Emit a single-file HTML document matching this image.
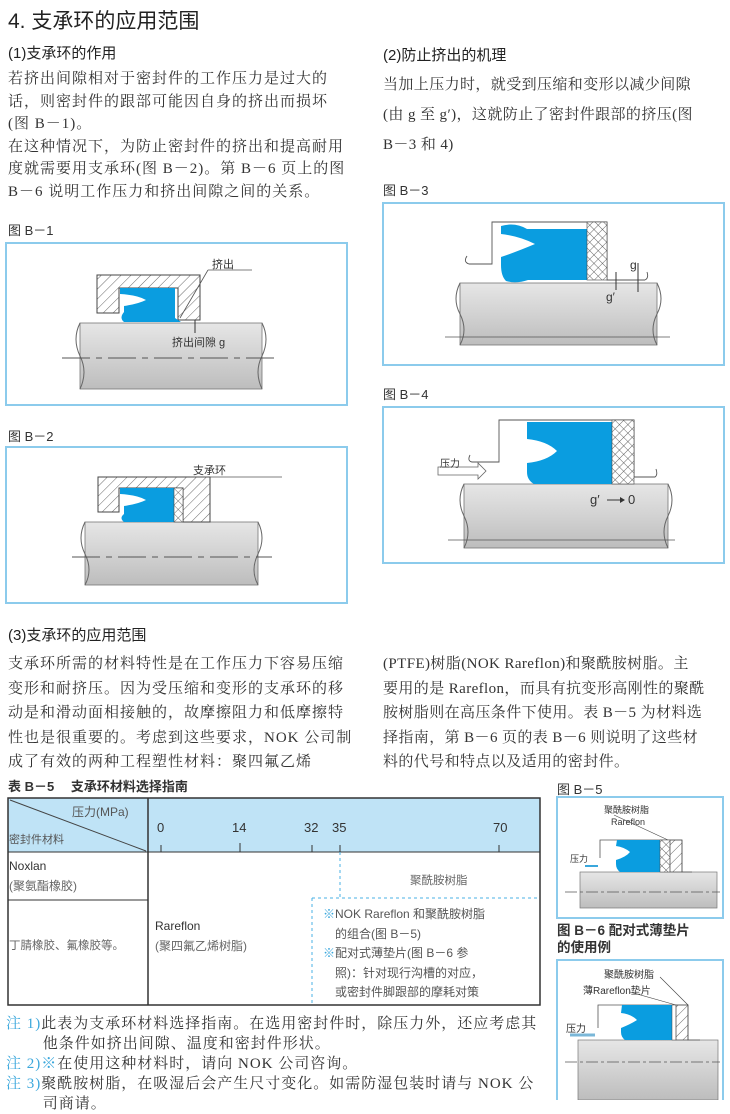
<!DOCTYPE html>
<html><head><meta charset="utf-8"><style>
body{margin:0;width:730px;height:1100px;position:relative;background:#fff;overflow:hidden;font-family:"Liberation Sans","Noto Sans CJK SC",sans-serif;color:#333}
.t{position:absolute;white-space:nowrap;font-size:14px}
.h{font-size:15px;color:#222}
.b{font-family:"Liberation Serif","Noto Serif CJK SC",serif;font-size:15px;color:#333}
.n{color:#3aa7dc}
svg{position:absolute;left:0;top:0}
</style></head><body>
<svg width="730" height="1100" viewBox="0 0 730 1100">
<defs>
<linearGradient id="sh" x1="0" y1="0" x2="0" y2="1"><stop offset="0" stop-color="#e6e6e6"/><stop offset="0.5" stop-color="#d2d2d2"/><stop offset="1" stop-color="#bdbdbd"/></linearGradient>
<pattern id="hat" width="7" height="7" patternUnits="userSpaceOnUse" patternTransform="rotate(45)"><line x1="0" y1="0" x2="0" y2="7" stroke="#444" stroke-width="0.8"/></pattern>
<pattern id="cross" width="6" height="6" patternUnits="userSpaceOnUse" patternTransform="rotate(45)"><rect width="6" height="6" fill="#fff"/><line x1="0" y1="0" x2="0" y2="6" stroke="#444" stroke-width="0.8"/><line x1="0" y1="0" x2="6" y2="0" stroke="#444" stroke-width="0.8"/></pattern>
</defs>
<g fill="none" stroke="#8ccbec" stroke-width="2">
<rect x="6" y="243" width="341" height="162"/>
<rect x="6" y="447" width="341" height="156"/>
<rect x="383" y="203" width="341" height="162"/>
<rect x="383" y="407" width="341" height="156"/>
<rect x="557" y="797" width="166" height="121"/>
<rect x="557" y="960" width="166" height="145"/>
</g>
<!-- B-1 -->
<rect x="80" y="323" width="182" height="66" fill="url(#sh)" stroke="#777" stroke-width="0.8"/>
<path d="M80 323 q-8 16 0 33 q8 16 0 33 M262 323 q8 16 0 33 q-8 16 0 33" fill="none" stroke="#666"/>
<line x1="62" y1="358" x2="277" y2="358" stroke="#555" stroke-dasharray="28 6 6 6"/>
<path d="M97 275 H200 V320 H178 V288 H119 V313 H97 Z" fill="url(#hat)" stroke="#444"/>
<path d="M120 288 H175 V318 l6 4 H124 q-5 -4 0 -10 V306 q14 -2 22 -6 q-8 -5 -26 -6 z" fill="#0a9de0"/>
<line x1="208" y1="270" x2="252" y2="270" stroke="#555" stroke-width="0.8"/>
<line x1="208" y1="270" x2="180" y2="318" stroke="#555" stroke-width="0.8"/>
<line x1="195" y1="320" x2="195" y2="333" stroke="#333"/>
<!-- B-2 -->
<rect x="85" y="522" width="173" height="63" fill="url(#sh)" stroke="#777" stroke-width="0.8"/>
<path d="M85 522 q-8 16 0 32 q8 16 0 31 M258 522 q8 16 0 32 q-8 16 0 31" fill="none" stroke="#666"/>
<line x1="72" y1="557" x2="272" y2="557" stroke="#555" stroke-dasharray="28 6 6 6"/>
<path d="M98 477 H210 V522 H183 V488 H119 V512 H98 Z" fill="url(#hat)" stroke="#444"/>
<path d="M120 488 H174 V522 H124 q-5 -4 0 -8 V506 q14 -2 22 -6 q-8 -5 -26 -6 z" fill="#0a9de0"/>
<rect x="174" y="488" width="9" height="34" fill="url(#cross)" stroke="#444" stroke-width="0.6"/>
<line x1="190" y1="477" x2="282" y2="477" stroke="#555" stroke-width="0.8"/>
<!-- B-3 -->
<rect x="460" y="283" width="197" height="62" fill="url(#sh)" stroke="#777" stroke-width="0.8"/>
<path d="M460 283 q-8 16 0 31 q8 16 0 31 M657 283 q8 16 0 31 q-8 16 0 31" fill="none" stroke="#666"/>
<line x1="445" y1="337" x2="670" y2="337" stroke="#555" stroke-width="0.8"/>
<path d="M467 256 q-4 6 2 8 H492 V222 H607 V280 H645 M645 280 q4 -2 2 -8" fill="none" stroke="#555" stroke-width="0.9"/>
<path d="M501 226 q14 -4 26 3 H587 V280 H528 q-12 4 -22 1 q-5 -5 -5 -16 V257 q15 -5 34 -13 q-16 -8 -34 -10 z" fill="#0a9de0"/>
<rect x="587" y="222" width="20" height="58" fill="url(#cross)" stroke="#444" stroke-width="0.6"/>
<line x1="616" y1="272" x2="616" y2="290" stroke="#333"/><line x1="638" y1="263" x2="638" y2="292" stroke="#333"/>
<!-- B-4 -->
<rect x="464" y="484" width="204" height="64" fill="url(#sh)" stroke="#777" stroke-width="0.8"/>
<path d="M464 484 q-8 16 0 32 q8 16 0 32 M668 484 q8 16 0 32 q-8 16 0 32" fill="none" stroke="#666"/>
<line x1="448" y1="540" x2="675" y2="540" stroke="#555" stroke-width="0.8"/>
<path d="M470 455 q-3 6 2 7 H499 V420 H634 V477 H655 q3 -2 1 -8" fill="none" stroke="#555" stroke-width="0.9"/>
<path d="M527 422 H612 V484 H534 q-7 -4 -7 -12 V463 q20 -2 30 -12 q-10 -10 -30 -12 z" fill="#0a9de0"/>
<rect x="612" y="420" width="22" height="64" fill="url(#cross)" stroke="#444" stroke-width="0.6"/>
<path d="M438 467 H478 V463 L486 471 L478 479 V475 H438 Z" fill="#fff" stroke="#666" stroke-width="0.8"/>
<line x1="607" y1="500" x2="620" y2="500" stroke="#333"/><path d="M620 497 l5 3 l-5 3z" fill="#333"/>
<!-- Table -->
<rect x="8" y="798" width="532" height="54" fill="#bfe3f6"/>
<rect x="8" y="798" width="532" height="207" fill="none" stroke="#333" stroke-width="1.5"/>
<line x1="148" y1="798" x2="148" y2="1005" stroke="#333" stroke-width="1.5"/>
<line x1="8" y1="852" x2="540" y2="852" stroke="#333"/>
<line x1="8" y1="900" x2="148" y2="900" stroke="#333"/>
<line x1="10" y1="800" x2="146" y2="851" stroke="#444"/>
<g stroke="#333"><line x1="161" y1="845" x2="161" y2="852"/><line x1="240" y1="843" x2="240" y2="852"/><line x1="312" y1="845" x2="312" y2="852"/><line x1="340" y1="845" x2="340" y2="852"/><line x1="499" y1="845" x2="499" y2="852"/></g>
<path d="M340 852 V898 M312 898 H540 M312 898 V1005" fill="none" stroke="#49b0e4" stroke-dasharray="3 3"/>
<!-- B-5 -->
<rect x="580" y="872" width="137" height="36" fill="url(#sh)" stroke="#777" stroke-width="0.7"/>
<line x1="565" y1="892" x2="720" y2="892" stroke="#555" stroke-dasharray="12 3 3 3" stroke-width="0.7"/>
<path d="M600 858 V840 H682 V872 H692" fill="none" stroke="#555" stroke-width="0.8"/>
<path d="M617 840 H660 V872 H620 q-4 -3 -4 -8 V860 q10 -3 14 -8 q-6 -5 -14 -6z" fill="#0a9de0"/>
<rect x="660" y="840" width="10" height="32" fill="url(#cross)" stroke="#444" stroke-width="0.5"/>
<rect x="670" y="840" width="12" height="32" fill="url(#hat)" stroke="#444" stroke-width="0.5"/>
<line x1="585" y1="866" x2="598" y2="866" stroke="#3aa7dc" stroke-width="2"/>
<line x1="614" y1="815" x2="668" y2="840" stroke="#444" stroke-width="0.6"/>
<!-- B-6 -->
<rect x="578" y="1040" width="140" height="60" fill="url(#sh)" stroke="#777" stroke-width="0.7"/>
<line x1="565" y1="1062" x2="720" y2="1062" stroke="#555" stroke-dasharray="12 3 3 3" stroke-width="0.7"/>
<path d="M598 1028 V1005 H688 V1040 H700" fill="none" stroke="#555" stroke-width="0.8"/>
<path d="M622 1005 H672 V1040 H625 q-4 -3 -4 -8 V1028 q10 -4 16 -8 q-6 -6 -16 -7z" fill="#0a9de0"/>
<rect x="672" y="1005" width="4" height="35" fill="#fff" stroke="#444" stroke-width="0.5"/>
<rect x="676" y="1005" width="12" height="35" fill="url(#hat)" stroke="#444" stroke-width="0.5"/>
<line x1="570" y1="1035" x2="595" y2="1035" stroke="#7ab7d8" stroke-width="3"/>
<line x1="630" y1="992" x2="676" y2="1005" stroke="#444" stroke-width="0.6"/>
<line x1="660" y1="977" x2="688" y2="1005" stroke="#444" stroke-width="0.6"/>
</svg>

<div class="t" style="left:8px;top:5px;font-size:21px;color:#222">4. 支承环的应用范围</div>
<div class="t h" style="left:8px;top:42px">(1)支承环的作用</div>
<div class="t b" style="left:8px;top:68px;line-height:22.5px;letter-spacing:1px">若挤出间隙相对于密封件的工作压力是过大的<br>话，则密封件的跟部可能因自身的挤出而损坏<br>(图 B－1)。<br>在这种情况下，为防止密封件的挤出和提高耐用<br>度就需要用支承环(图 B－2)。第 B－6 页上的图<br>B－6 说明工作压力和挤出间隙之间的关系。</div>
<div class="t" style="left:8px;top:220px;font-size:13px">图 B－1</div>
<div class="t" style="left:212px;top:256px;font-size:11px">挤出</div>
<div class="t" style="left:172px;top:334px;font-size:11px">挤出间隙 g</div>
<div class="t" style="left:8px;top:426px;font-size:13px">图 B－2</div>
<div class="t" style="left:193px;top:462px;font-size:11px">支承环</div>

<div class="t h" style="left:383px;top:44px">(2)防止挤出的机理</div>
<div class="t b" style="left:383px;top:70px;line-height:30px;letter-spacing:0.4px">当加上压力时，就受到压缩和变形以减少间隙<br>(由 g 至 g′)，这就防止了密封件跟部的挤压(图<br>B－3 和 4)</div>
<div class="t" style="left:383px;top:180px;font-size:13px">图 B－3</div>
<div class="t" style="left:630px;top:258px;font-size:12px">g</div>
<div class="t" style="left:606px;top:290px;font-size:12px">g′</div>
<div class="t" style="left:383px;top:384px;font-size:13px">图 B－4</div>
<div class="t" style="left:440px;top:455px;font-size:10px">压力</div>
<div class="t" style="left:590px;top:492px;font-size:13px">g′</div>
<div class="t" style="left:628px;top:492px;font-size:13px">0</div>

<div class="t h" style="left:8px;top:624px">(3)支承环的应用范围</div>
<div class="t b" style="left:8px;top:652px;line-height:24.5px;letter-spacing:1px">支承环所需的材料特性是在工作压力下容易压缩<br>变形和耐挤压。因为受压缩和变形的支承环的移<br>动是和滑动面相接触的，故摩擦阻力和低摩擦特<br>性也是很重要的。考虑到这些要求，NOK 公司制<br>成了有效的两种工程塑性材料：聚四氟乙烯</div>
<div class="t b" style="left:383px;top:652px;line-height:24.5px;letter-spacing:0.4px">(PTFE)树脂(NOK Rareflon)和聚酰胺树脂。主<br>要用的是 Rareflon，而具有抗变形高刚性的聚酰<br>胺树脂则在高压条件下使用。表 B－5 为材料选<br>择指南，第 B－6 页的表 B－6 则说明了这些材<br>料的代号和特点以及适用的密封件。</div>

<div class="t" style="left:8px;top:776px;font-size:13px;font-weight:bold">表 B－5　 支承环材料选择指南</div>
<div class="t" style="left:72px;top:803px;font-size:12px;color:#555">压力(MPa)</div>
<div class="t" style="left:9px;top:831px;font-size:11px;color:#555">密封件材料</div>
<div class="t" style="left:157px;top:820px;font-size:13px">0</div>
<div class="t" style="left:232px;top:820px;font-size:13px">14</div>
<div class="t" style="left:304px;top:820px;font-size:13px">32</div>
<div class="t" style="left:332px;top:820px;font-size:13px">35</div>
<div class="t" style="left:493px;top:820px;font-size:13px">70</div>
<div class="t" style="left:9px;top:856px;font-size:12px;line-height:20px">Noxlan<br><span style="color:#666">(聚氨酯橡胶)</span></div>
<div class="t" style="left:9px;top:937px;font-size:11.5px;color:#666">丁腈橡胶、氟橡胶等。</div>
<div class="t" style="left:155px;top:916px;font-size:12px;line-height:20px">Rareflon<br><span style="color:#666">(聚四氟乙烯树脂)</span></div>
<div class="t" style="left:410px;top:872px;font-size:11.5px;color:#666">聚酰胺树脂</div>
<div class="t" style="left:323px;top:905px;font-size:12px;line-height:19.5px;color:#555"><span class="n">※</span>NOK Rareflon 和聚酰胺树脂<br>　的组合(图 B－5)<br><span class="n">※</span>配对式薄垫片(图 B－6 参<br>　照)：针对现行沟槽的对应，<br>　或密封件脚跟部的摩耗对策</div>
<div class="t b" style="left:6px;top:1014px;line-height:20px;letter-spacing:1px"><span class="n">注 1)</span>此表为支承环材料选择指南。在选用密封件时，除压力外，还应考虑其<br>　　 他条件如挤出间隙、温度和密封件形状。<br><span class="n">注 2)※</span>在使用这种材料时，请向 NOK 公司咨询。<br><span class="n">注 3)</span>聚酰胺树脂，在吸湿后会产生尺寸变化。如需防湿包装时请与 NOK 公<br>　　 司商请。</div>

<div class="t" style="left:557px;top:779px;font-size:13px">图 B－5</div>
<div class="t" style="left:604px;top:803px;font-size:9px">聚酰胺树脂</div>
<div class="t" style="left:611px;top:817px;font-size:9px">Rareflon</div>
<div class="t" style="left:570px;top:852px;font-size:9px">压力</div>
<div class="t" style="left:557px;top:922px;font-size:13.5px;font-weight:bold;line-height:17px">图 B－6 配对式薄垫片<br>的使用例</div>
<div class="t" style="left:604px;top:966px;font-size:10px">聚酰胺树脂</div>
<div class="t" style="left:583px;top:982px;font-size:10px">薄Rareflon垫片</div>
<div class="t" style="left:566px;top:1020px;font-size:10px">压力</div>
</body></html>
